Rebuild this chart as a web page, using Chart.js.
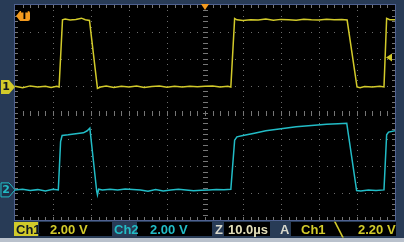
<!DOCTYPE html>
<html>
<head>
<meta charset="utf-8">
<script src="https://cdn.jsdelivr.net/npm/chart.js@4"></script>
<style>
  html, body { margin: 0; padding: 0; }
  body { width: 404px; height: 242px; background: #283b56; position: relative; overflow: hidden; }
  #scope { position: absolute; left: 0; top: 0; }
  #strip { position: absolute; left: 0; top: 238px; width: 404px; height: 4px; background: #b9c1cc; }
  .bx { position: absolute; top: 222px; height: 14px; background: #000; }
  .tx { position: absolute; top: 222px; height: 14px; line-height: 14px; font: bold 13px "Liberation Sans", sans-serif; white-space: nowrap; }
</style>
</head>
<body>
<canvas id="scope" width="404" height="242"></canvas>
<div id="strip"></div>
<div class="bx" style="left:14px;width:24px;background:#d2ca2a"></div>
<div class="bx" style="left:39px;width:73px"></div>
<div class="bx" style="left:137px;width:75px"></div>
<div class="bx" style="left:224px;width:46px"></div>
<div class="bx" style="left:291px;width:105px"></div>
<span class="tx" style="left:16px;color:#101820">Ch1</span>
<span class="tx" style="left:50px;color:#d2ca2a">2.00 V</span>
<span class="tx" style="left:114px;color:#22bcc6">Ch2</span>
<span class="tx" style="left:150px;color:#22bcc6">2.00 V</span>
<span class="tx" style="left:215px;color:#d8d8cc">Z</span>
<span class="tx" style="left:228px;color:#e4dfb8">10.0µs</span>
<span class="tx" style="left:280px;color:#d8d8cc">A</span>
<span class="tx" style="left:301px;color:#d2ca2a">Ch1</span>
<span class="tx" style="left:335px;color:#d2ca2a">╲</span>
<span class="tx" style="left:358px;color:#d2ca2a">2.20 V</span>

<script>
// channel 1 (yellow), time in µs, volts
const ch1Time = [-50, -48, -46, -44, -42, -40.5, -39, -38.4, -37.5, -36.8, -35.5, -34, -32.5, -31.5, -30.4,
  -28.3, -27.5, -26, -24, -22, -20, -18, -16, -14, -12, -10, -8, -6, -4, -2, 0, 2, 4, 6, 6.8,
  7.8, 8.4, 10, 12, 14, 16, 18, 20, 22, 24, 26, 28, 30, 32, 34, 36, 37.4,
  40.0, 40.8, 42, 44, 46, 47.1, 47.8, 48.6, 50];
const ch1Volts = [0.05, -0.05, 0.08, 0.0, 0.06, -0.04, 0.05, 0.0, 5.0, 5.05, 4.98, 5.02, 5.12, 5.0, 4.95,
  -0.1, 0.0, 0.08, -0.04, 0.05, 0.0, 0.07, -0.03, 0.04, 0.08, -0.02, 0.05, 0.0, 0.06, 0.02, 0.05, 0.08, 0.0, 0.05, 0.0,
  5.1, 5.0, 4.95, 5.0, 4.98, 5.05, 4.97, 5.03, 5.0, 4.96, 5.04, 5.0, 4.98, 5.04, 5.0, 5.02, 4.98,
  0.0, -0.06, 0.04, 0.0, 0.05, 0.0, 5.1, 5.0, 5.0];

// channel 2 (cyan)
const ch2Time = [-50, -48, -46, -44, -42, -40, -38.6, -38.0, -37.6, -36, -34, -32, -31, -30.3,
  -28.5, -28.3, -28.0, -27, -25, -23, -21, -19, -17, -15, -13, -11, -9, -7, -5, -3, -1, 1, 3, 5, 6.8,
  7.8, 8.4, 10, 13, 16, 20, 24, 28, 32, 35, 37.3,
  39.9, 41, 43, 45, 47.1, 47.8, 48.3, 50];
const ch2Volts = [0.0, 0.05, -0.05, 0.02, -0.08, 0.04, 0.0, 3.6, 4.05, 4.1, 4.18, 4.25, 4.4, 4.6,
  -0.1, -0.37, 0.05, 0.0, 0.05, 0.0, 0.06, 0.03, 0.0, -0.1, 0.02, -0.08, 0.0, 0.05, 0.0, -0.06, -0.02, 0.0, 0.03, 0.02, 0.05,
  3.7, 3.95, 4.05, 4.22, 4.4, 4.55, 4.7, 4.8, 4.88, 4.93, 4.96,
  -0.05, -0.08, 0.0, -0.04, 0.0, 4.1, 4.3, 4.4];

// scope settings
const usPerDiv = 10;
const voltsPerDiv = 2;
const ch1Offset = 0.95;   // ground position in divisions from centre
const ch2Offset = -2.88;
const trigLevel = 2.2;

const YELLOW = "#d2ca2a";
const CYAN = "#22bcc6";
const ORANGE = "#f39a1e";

function points(t, v) {
  return t.map((x, i) => ({ x: x, y: v[i] }));
}

// graticule, markers
const scopeScreen = {
  id: "scopeScreen",
  beforeDatasetsDraw(chart) {
    const { ctx, chartArea: a } = chart;
    const dw = a.width / 10, dh = a.height / 8;
    ctx.save();
    ctx.fillStyle = "#000";
    ctx.fillRect(a.left, a.top, a.width, a.height);
    ctx.fillStyle = "#6c6c6c";
    // dotted lines
    for (let i = 1; i < 10; i++) {
      if (i == 5) continue;
      const x = Math.round(a.left + i * dw);
      for (let j = 1; j < 40; j++) ctx.fillRect(x, Math.round(a.top + j * dh / 5), 1, 1);
    }
    for (let k = 1; k < 8; k++) {
      if (k == 4) continue;
      const y = Math.round(a.top + k * dh);
      for (let m = 1; m < 50; m++) ctx.fillRect(Math.round(a.left + m * dw / 5), y, 1, 1);
    }
    // centre cross with ticks
    const cx = Math.round(a.left + 5 * dw), cy = Math.round(a.top + 4 * dh);
    ctx.fillStyle = "#767676";
    for (let j = 1; j < 40; j++) {
      const y = Math.round(a.top + j * dh / 5);
      ctx.fillRect(cx - 2, y, 5, 1);
    }
    for (let m = 1; m < 50; m++) {
      const x = Math.round(a.left + m * dw / 5);
      ctx.fillRect(x, cy - 2, 1, 5);
    }
    // edge ticks
    for (let m = 1; m < 50; m++) {
      const x = Math.round(a.left + m * dw / 5);
      ctx.fillRect(x, a.top, 1, 3);
      ctx.fillRect(x, a.bottom - 3, 1, 3);
    }
    for (let j = 1; j < 40; j++) {
      const y = Math.round(a.top + j * dh / 5);
      ctx.fillRect(a.left, y, 3, 1);
      ctx.fillRect(a.right - 3, y, 3, 1);
    }
    ctx.strokeStyle = "#4f6190";
    ctx.lineWidth = 1;
    ctx.strokeRect(a.left - 0.5, a.top - 0.5, a.width + 1, a.height + 1);
    ctx.restore();
  },
  afterDatasetsDraw(chart) {
    const { ctx, chartArea: a, scales } = chart;
    ctx.save();
    ctx.font = "bold 11px 'DejaVu Sans', sans-serif";
    ctx.textAlign = "center";
    ctx.textBaseline = "middle";
    // channel ground markers
    const marker = (y, fill, stroke, label, txt) => {
      ctx.beginPath();
      ctx.moveTo(1, y - 7);
      ctx.lineTo(9, y - 7);
      ctx.lineTo(a.left, y);
      ctx.lineTo(9, y + 7);
      ctx.lineTo(1, y + 7);
      ctx.closePath();
      ctx.fillStyle = fill;
      ctx.fill();
      if (stroke) {
        ctx.strokeStyle = stroke;
        ctx.lineWidth = 1;
        ctx.stroke();
      }
      ctx.fillStyle = txt;
      ctx.fillText(label, 6, y + 0.5);
    };
    marker(scales.y1.getPixelForValue(0), YELLOW, null, "1", "#101820");
    marker(scales.y2.getPixelForValue(0), "#1d3048", CYAN, "2", CYAN);

    // trigger position on top
    const tx = scales.x.getPixelForValue(0);
    ctx.fillStyle = ORANGE;
    ctx.beginPath();
    ctx.moveTo(tx - 4, a.top - 1);
    ctx.lineTo(tx + 4, a.top - 1);
    ctx.lineTo(tx, a.top + 5);
    ctx.closePath();
    ctx.fill();

    // T marker
    const ty = a.top + 11;
    ctx.beginPath();
    ctx.moveTo(a.left + 1, ty);
    ctx.lineTo(a.left + 5, ty - 5);
    ctx.lineTo(a.left + 13, ty - 5);
    ctx.arcTo(a.left + 15, ty - 5, a.left + 15, ty, 2);
    ctx.arcTo(a.left + 15, ty + 5, a.left + 13, ty + 5, 2);
    ctx.lineTo(a.left + 5, ty + 5);
    ctx.closePath();
    ctx.fill();
    ctx.fillStyle = "#000";
    ctx.font = "bold 10px 'DejaVu Sans', sans-serif";
    ctx.fillText("T", a.left + 9.5, ty + 0.5);

    // trigger level on right
    const ly = scales.y1.getPixelForValue(trigLevel);
    ctx.fillStyle = YELLOW;
    ctx.beginPath();
    ctx.moveTo(a.right - 9, ly);
    ctx.lineTo(a.right - 3, ly - 4);
    ctx.lineTo(a.right - 3, ly + 4);
    ctx.closePath();
    ctx.fill();
    ctx.restore();
  },
};

const data = {
  datasets: [
    {
      label: "Ch1",
      data: points(ch1Time, ch1Volts),
      yAxisID: "y1",
      borderColor: YELLOW,
      borderWidth: 1.5,
      pointRadius: 0,
      tension: 0,
    },
    {
      label: "Ch2",
      data: points(ch2Time, ch2Volts),
      yAxisID: "y2",
      borderColor: CYAN,
      borderWidth: 1.5,
      pointRadius: 0,
      tension: 0,
    },
  ],
};

const options = {
  responsive: false,
  animation: false,
  devicePixelRatio: 1,
  layout: { padding: { left: 15, right: 9, top: 5, bottom: 22 } },
  plugins: { legend: { display: false }, tooltip: { enabled: false } },
  scales: {
    x: { type: "linear", display: false, min: -5 * usPerDiv, max: 5 * usPerDiv },
    y1: { type: "linear", display: false, min: (-4 - ch1Offset) * voltsPerDiv, max: (4 - ch1Offset) * voltsPerDiv },
    y2: { type: "linear", display: false, min: (-4 - ch2Offset) * voltsPerDiv, max: (4 - ch2Offset) * voltsPerDiv },
  },
};

const ctx = document.getElementById("scope").getContext("2d");
let myChart = new Chart(ctx, {
  type: "line",
  data,
  options,
  plugins: [scopeScreen],
});
</script>
</body>
</html>
